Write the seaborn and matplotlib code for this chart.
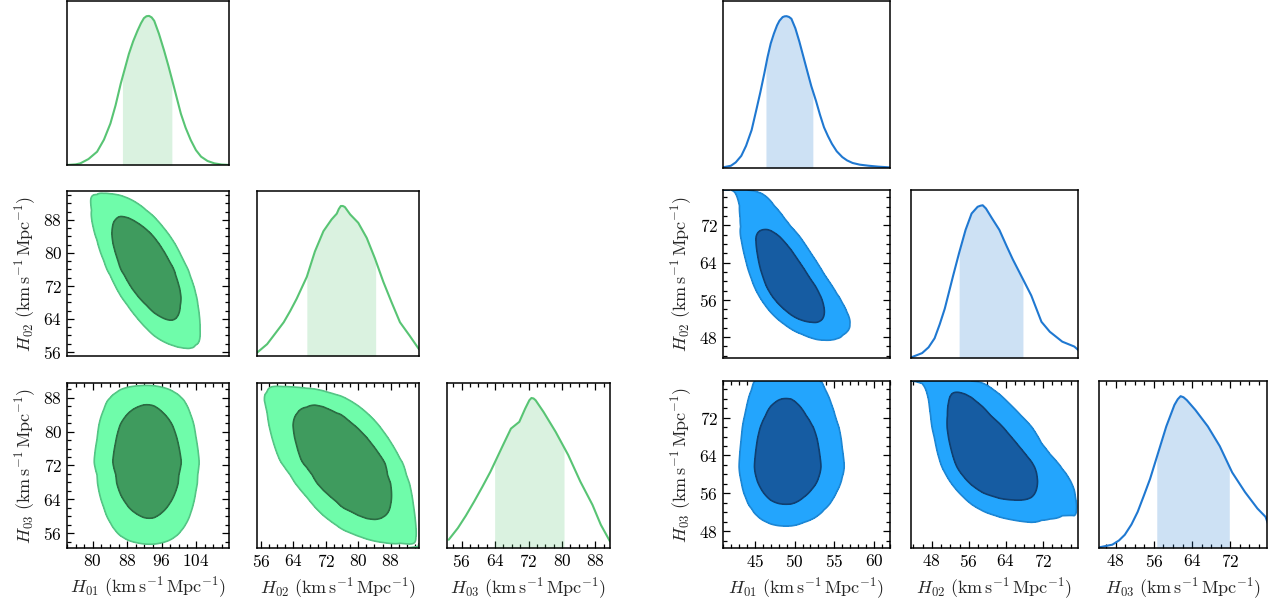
import math
import numpy as np
import matplotlib
matplotlib.use("Agg")
import matplotlib.pyplot as plt
from matplotlib.ticker import MultipleLocator
import seaborn as sns

# ---------------- data ----------------
# 1D marginal curves (relative density, peak ~1) for the left (green) set
g_h01_x = [74.0, 76.0, 77.1, 79.0, 81.0, 82.6, 84.1, 85.3, 86.5, 87.5, 88.4, 89.4, 90.4, 91.2, 91.9, 92.5, 93.1,
           93.7, 94.3, 95.4, 96.6, 97.6, 98.5, 99.5, 100.5, 101.6, 102.8, 104.0, 105.2, 106.7, 108.3, 110.0, 112.0]
g_h01_y = [0.0, 0.004, 0.011, 0.04, 0.089, 0.17, 0.278, 0.40, 0.545, 0.65, 0.745, 0.83, 0.90, 0.95, 0.985, 0.998, 1.0,
           0.99, 0.967, 0.88, 0.767, 0.665, 0.567, 0.455, 0.344, 0.25, 0.167, 0.10, 0.056, 0.027, 0.011, 0.003, 0.0]
g_h02_x = [55.0, 57.5, 59.5, 61.6, 63.2, 64.8, 67.3, 69.3, 71.4, 73.4, 74.7, 75.2, 75.7, 76.2, 76.7, 78.0, 80.0, 82.1,
           84.1, 86.2, 88.2, 90.3, 92.7, 95.0]
g_h02_y = [0.022, 0.079, 0.15, 0.225, 0.30, 0.382, 0.528, 0.697, 0.832, 0.91, 0.949, 0.98, 1.0, 1.0, 0.993, 0.944,
           0.888, 0.787, 0.652, 0.494, 0.36, 0.225, 0.135, 0.045]
g_h03_x = [52.9, 55.1, 57.0, 59.0, 61.0, 62.9, 65.9, 67.8, 69.8, 71.2, 72.2, 72.7, 73.2, 73.7, 75.6, 78.5, 81.5, 84.4,
           87.3, 89.3, 91.5]
g_h03_y = [0.055, 0.133, 0.215, 0.31, 0.41, 0.509, 0.686, 0.796, 0.841, 0.929, 0.985, 1.0, 0.997, 0.985, 0.907, 0.774,
           0.62, 0.443, 0.288, 0.155, 0.044]
g_bands = [(86.9, 98.4), (67.3, 84.3), (63.9, 80.5)]
g_rho = {(0, 1): -0.65, (0, 2): -0.03, (1, 2): -0.55}

# right (blue) set
b_h01_x = [41.0, 42.0, 42.6, 43.3, 43.9, 44.6, 45.2, 45.7, 46.2, 46.6, 47.0, 47.4, 47.8, 48.1, 48.5, 48.75, 49.0, 49.3,
           49.6, 50.1, 50.6, 51.1, 51.6, 52.1, 52.7, 53.2, 53.7, 54.2, 54.7, 55.3, 56.0, 56.6, 57.3, 58.2, 59.3, 60.5,
           62.0]
b_h01_y = [0.004, 0.015, 0.037, 0.08, 0.146, 0.25, 0.385, 0.50, 0.624, 0.73, 0.82, 0.885, 0.94, 0.97, 0.994, 0.999,
           1.0, 0.995, 0.983, 0.92, 0.833, 0.735, 0.637, 0.54, 0.441, 0.35, 0.268, 0.21, 0.159, 0.11, 0.072, 0.05,
           0.033, 0.022, 0.015, 0.009, 0.004]
b_h02_x = [43.7, 45.9, 47.3, 48.6, 49.7, 50.8, 51.7, 52.6, 53.9, 55.3, 56.6, 57.9, 58.5, 59.0, 59.7, 61.0, 62.6, 64.2,
           65.5, 67.7, 69.5, 71.7, 73.5, 76.2, 78.8, 80.0]
b_h02_y = [0.006, 0.032, 0.07, 0.129, 0.22, 0.323, 0.43, 0.538, 0.688, 0.839, 0.946, 0.99, 0.997, 1.0, 0.979, 0.915,
           0.839, 0.731, 0.646, 0.516, 0.409, 0.237, 0.172, 0.107, 0.075, 0.043]
b_h03_x = [44.5, 47.3, 48.7, 49.9, 51.3, 52.6, 53.9, 55.2, 56.9, 58.6, 60.3, 61.0, 61.6, 62.2, 62.9, 64.7, 67.3, 69.8,
           72.4, 75.1, 77.7, 79.4, 80.5]
b_h03_y = [0.004, 0.022, 0.05, 0.087, 0.155, 0.238, 0.345, 0.455, 0.628, 0.801, 0.942, 0.98, 1.0, 0.993, 0.974, 0.909,
           0.801, 0.671, 0.498, 0.368, 0.26, 0.205, 0.108]
b_bands = [(46.4, 52.3), (53.9, 67.7), (56.6, 71.8)]
b_rho = {(0, 1): -0.7, (0, 2): 0.0, (1, 2): -0.55}

param_names = ["01", "02", "03"]
g_limits = [(74.0, 111.7), (55.0, 95.0), (52.5, 91.5)]
b_limits = [(41.0, 62.0), (43.5, 79.6), (44.5, 79.7)]
g_major = [8, 8, 8]
b_major = [5, 8, 8]
g_minor = [2, 2, 2]
b_minor = [1, 2, 2]

# ---------------- styling ----------------
sns.set_style("ticks")
plt.rcParams["font.family"] = ["cmr10", "DejaVu Serif"]
plt.rcParams["mathtext.fontset"] = "cm"
plt.rcParams["axes.formatter.use_mathtext"] = True
plt.rcParams["axes.unicode_minus"] = False
plt.rcParams["font.size"] = 13

green = dict(line="#58c474", band="#58c474", outer="#6ffcaa", inner="#3f9b5e",
             outer_edge="#55c585", inner_edge="#2b6b42")
blue = dict(line="#1f78d1", band="#1f78d1", outer="#23a5fd", inner="#165ca2",
            outer_edge="#1d86d3", inner_edge="#103f70")

W, H = 1280.0, 611.0
fig = plt.figure(figsize=(12.8, 6.11), dpi=100)


def add_ax(x0, x1, y0, y1):
    return fig.add_axes([x0 / W, 1 - y1 / H, (x1 - x0) / W, (y1 - y0) / H])


_zg = np.linspace(-7, 7, 4001)
_Phi = 0.5 * (1 + np.vectorize(math.erf)(_zg / math.sqrt(2)))


def normal_scores(xs, ys, grid):
    f = np.clip(np.interp(grid, xs, ys), 1e-4, None)
    F = np.cumsum(f)
    F = (F - 0.5 * f) / F[-1]
    F = np.clip(F, 1e-7, 1 - 1e-7)
    return f, np.interp(F, _Phi, _zg)


def hpd_levels(P, probs):
    p = np.sort(P.ravel())[::-1]
    c = np.cumsum(p)
    c /= c[-1]
    return [p[min(np.searchsorted(c, q), p.size - 1)] for q in probs]


LABEL = r"$H_{%s}\ (\mathrm{km\,s^{-1}\,Mpc^{-1}})$"


def style_ax(ax, i, j, lims, major, minor, row_bottom):
    ax.tick_params(which="both", direction="in", width=0.9, colors="black", labelsize=12.5)
    ax.tick_params(which="major", length=5)
    ax.tick_params(which="minor", length=2.6)
    for s in ax.spines.values():
        s.set_linewidth(1.1)
        s.set_color("black")
    ax.set_xlim(*lims[j])
    ax.xaxis.set_major_locator(MultipleLocator(major[j]))
    ax.xaxis.set_minor_locator(MultipleLocator(minor[j]))
    if i == row_bottom:
        ax.tick_params(which="both", bottom=True, top=True, labelbottom=True)
        ax.set_xlabel(LABEL % param_names[j], fontsize=13, labelpad=4)
    else:
        ax.tick_params(which="both", bottom=False, top=False, labelbottom=False)
    if i != j:
        ax.set_ylim(*lims[i])
        ax.yaxis.set_major_locator(MultipleLocator(major[i]))
        ax.yaxis.set_minor_locator(MultipleLocator(minor[i]))
        if j == 0:
            ax.tick_params(which="both", left=True, right=True, labelleft=True)
            ax.set_ylabel(LABEL % param_names[i], fontsize=13, labelpad=4)
        else:
            ax.tick_params(which="both", left=False, right=False, labelleft=False)
    else:
        ax.tick_params(which="both", left=False, right=False, labelleft=False)
        ax.set_ylabel("")
    ax.set_facecolor("white")


def corner(cols_px, rows_px, curves, bands, rho, lims, major, minor, col):
    n = 3
    grids, fs, zs = [], [], []
    for k in range(n):
        g = np.linspace(lims[k][0], lims[k][1], 260)
        f, z = normal_scores(curves[k][0], curves[k][1], g)
        grids.append(g); fs.append(f); zs.append(z)
    for i in range(n):
        for j in range(i + 1):
            ax = add_ax(cols_px[j][0], cols_px[j][1], rows_px[i][0], rows_px[i][1])
            if i == j:
                xs = np.array(curves[i][0]); ys = np.array(curves[i][1])
                ys = ys / ys.max()
                lo, hi = bands[i]
                xb = np.linspace(lo, hi, 200)
                ax.fill_between(xb, 0, np.interp(xb, xs, ys), color=col["band"], alpha=0.22, lw=0)
                sns.lineplot(x=xs, y=ys, ax=ax, color=col["line"], lw=1.5, sort=False)
                ax.set_ylim(0, 1.1)
            else:
                r = rho[(j, i)]
                X, Y = np.meshgrid(grids[j], grids[i])
                FX, FY = np.meshgrid(fs[j], fs[i])
                ZX, ZY = np.meshgrid(zs[j], zs[i])
                cop = np.exp(-(r * r * (ZX ** 2 + ZY ** 2) - 2 * r * ZX * ZY) / (2 * (1 - r * r))) / math.sqrt(1 - r * r)
                P = cop * FX * FY
                l95, l68 = hpd_levels(P, [0.95, 0.68])
                ax.contourf(X, Y, P, levels=[l95, l68, P.max() * 1.01],
                            colors=[col["outer"], col["inner"]])
                ax.contour(X, Y, P, levels=[l95, l68],
                           colors=[col["outer_edge"], col["inner_edge"]], linewidths=1.2)
            style_ax(ax, i, j, lims, major, minor, n - 1)


g_curves = [(g_h01_x, g_h01_y), (g_h02_x, g_h02_y), (g_h03_x, g_h03_y)]
b_curves = [(b_h01_x, b_h01_y), (b_h02_x, b_h02_y), (b_h03_x, b_h03_y)]

corner([(67, 229), (257, 419), (447, 610)], [(1, 165), (191, 356), (383, 548)],
       g_curves, g_bands, g_rho, g_limits, g_major, g_minor, green)
corner([(723, 890), (911, 1078), (1099, 1267)], [(1, 168), (190, 358), (381, 548)],
       b_curves, b_bands, b_rho, b_limits, b_major, b_minor, blue)

fig.savefig("out.png", dpi=100, facecolor="white")
